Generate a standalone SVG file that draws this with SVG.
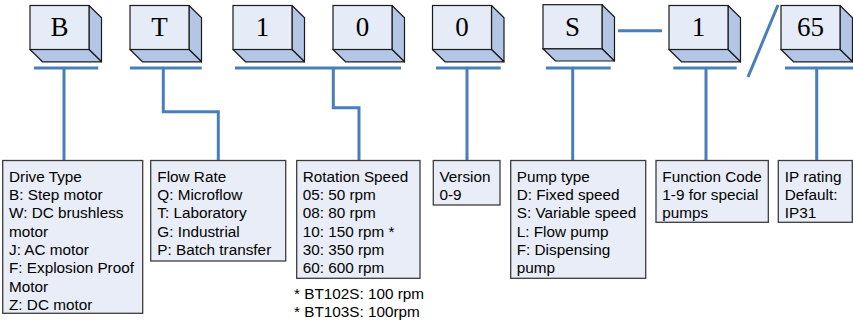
<svg xmlns="http://www.w3.org/2000/svg" width="853" height="323" viewBox="0 0 853 323">
<defs>
<style>
.front{fill:#e6ecf7;stroke:#1a1a1a;stroke-width:1.2}
.side{fill:#b3c6e6;stroke:#1a1a1a;stroke-width:1.2;stroke-linejoin:round}
.cl{font-family:"Liberation Serif","Times New Roman",serif;font-size:27px;fill:#000;text-anchor:middle}
.box{fill:#e8edf7;stroke:#3c3c3c;stroke-width:1.3}
.t{font-family:"Liberation Sans",Arial,sans-serif;font-size:15.3px;fill:#000}
.con{fill:none;stroke:#4a7ebb;stroke-width:3;stroke-linejoin:miter}
</style>
<g id="cube">
<path class="side" d="M59,0 L71.5,12.3 L71.5,56.3 L59,44 Z"/>
<path class="side" d="M0,44 L12.5,56.3 L71.5,56.3 L59,44 Z"/>
<rect class="front" x="0" y="0" width="59" height="44"/>
</g>
</defs>
<rect width="853" height="323" fill="#fff"/>

<g id="code-B"><use href="#cube" x="30" y="5.5"/><text class="cl" x="59.5" y="36">B</text></g>
<g id="code-T"><use href="#cube" x="130" y="5.5"/><text class="cl" x="159.5" y="36">T</text></g>
<g id="code-1a"><use href="#cube" x="233" y="5.5"/><text class="cl" x="262.5" y="36">1</text></g>
<g id="code-0a"><use href="#cube" x="333" y="5.5"/><text class="cl" x="362.5" y="36">0</text></g>
<g id="code-0b"><use href="#cube" x="432.5" y="5.5"/><text class="cl" x="462" y="36">0</text></g>
<g id="code-S"><use href="#cube" x="543" y="4.7"/><text class="cl" x="572.5" y="35.5">S</text></g>
<g id="code-1b"><use href="#cube" x="669" y="5.5"/><text class="cl" x="698.5" y="36">1</text></g>
<g id="code-65"><use href="#cube" x="781" y="5.5"/><text class="cl" x="810.5" y="36">65</text></g>

<g id="connectors" class="con">
<path d="M34,68 H98.3 M64,68 V160.5"/>
<path d="M130,68 H201.7 M163.3,68 V111.7 H218.3 V160.5"/>
<path d="M235,68 H401 M333.3,68 V107.7 H359 V160.5"/>
<path d="M436,68 H500.7 M467,68 V160.5"/>
<path d="M546,68 H610.7 M572.7,68 V160.5"/>
<path d="M618,30.7 H662"/>
<path d="M673.3,68 H736.7 M706,68 V160.5"/>
<path d="M778,5 L748,77"/>
<path d="M785,68 H853 M816.7,68 V160.5"/>
</g>

<g id="drive-type">
<rect class="box" x="2.7" y="160.5" width="140" height="152.8"/>
<text class="t" x="9"><tspan x="9" y="181.7">Drive Type</tspan><tspan x="9" y="200">B: Step motor</tspan><tspan x="9" y="218.3">W: DC brushless</tspan><tspan x="9" y="236.6">motor</tspan><tspan x="9" y="254.9">J: AC motor</tspan><tspan x="9" y="273.2">F: Explosion Proof</tspan><tspan x="9" y="291.5">Motor</tspan><tspan x="9" y="309.8">Z: DC motor</tspan></text>
</g>
<g id="flow-rate">
<rect class="box" x="150.7" y="160.5" width="135" height="100.5"/>
<text class="t"><tspan x="157.3" y="181.7">Flow Rate</tspan><tspan x="157.3" y="200">Q: Microflow</tspan><tspan x="157.3" y="218.3">T: Laboratory</tspan><tspan x="157.3" y="236.6">G: Industrial</tspan><tspan x="157.3" y="254.9">P: Batch transfer</tspan></text>
</g>
<g id="rotation-speed">
<rect class="box" x="296.7" y="160.5" width="123.3" height="117.8"/>
<text class="t"><tspan x="302.7" y="181.7">Rotation Speed</tspan><tspan x="302.7" y="200">05: 50 rpm</tspan><tspan x="302.7" y="218.3">08: 80 rpm</tspan><tspan x="302.7" y="236.6">10: 150 rpm *</tspan><tspan x="302.7" y="254.9">30: 350 rpm</tspan><tspan x="302.7" y="273.2">60: 600 rpm</tspan></text>
<text class="t"><tspan x="294" y="299">* BT102S: 100 rpm</tspan><tspan x="294" y="317.3">* BT103S: 100rpm</tspan></text>
</g>
<g id="version">
<rect class="box" x="433.3" y="160.5" width="66.7" height="44.5"/>
<text class="t"><tspan x="439.5" y="181.7">Version</tspan><tspan x="439.5" y="200">0-9</tspan></text>
</g>
<g id="pump-type">
<rect class="box" x="510.7" y="160.5" width="135" height="117.8"/>
<text class="t"><tspan x="516.7" y="181.7">Pump type</tspan><tspan x="516.7" y="200">D: Fixed speed</tspan><tspan x="516.7" y="218.3">S: Variable speed</tspan><tspan x="516.7" y="236.6">L: Flow pump</tspan><tspan x="516.7" y="254.9">F: Dispensing</tspan><tspan x="516.7" y="273.2">pump</tspan></text>
</g>
<g id="function-code">
<rect class="box" x="656" y="160.5" width="112.3" height="61.8"/>
<text class="t"><tspan x="662.3" y="181.7">Function Code</tspan><tspan x="662.3" y="200">1-9 for special</tspan><tspan x="662.3" y="218.3">pumps</tspan></text>
</g>
<g id="ip-rating">
<rect class="box" x="778.3" y="160.5" width="74" height="61.8"/>
<text class="t"><tspan x="784.8" y="181.7">IP rating</tspan><tspan x="784.8" y="200">Default:</tspan><tspan x="784.8" y="218.3">IP31</tspan></text>
</g>
</svg>
